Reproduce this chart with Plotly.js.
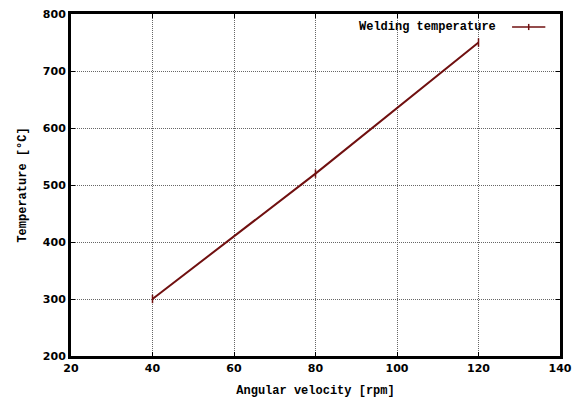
<!DOCTYPE html>
<html>
<head>
<meta charset="utf-8">
<script src="https://cdn.plot.ly/plotly-3.0.1.min.js"></script>
<style>html,body{margin:0;padding:0;background:#fff;}#chart{width:580px;height:400px;}</style>
</head>
<body>
<div id="chart"></div>
<script>
const seriesName = "Welding temperature";
const velocity = [40, 80, 120];
const temperature = [300, 520, 750];
const xTicks = [20, 40, 60, 80, 100, 120, 140];
const yTicks = [200, 300, 400, 500, 600, 700, 800];

const mono = "Liberation Mono, Courier New, monospace";
const sans = "DejaVu Sans, sans-serif";
const lineColor = "#701010";

const trace = {
  x: velocity, y: temperature, name: seriesName, showlegend: false,
  type: "scatter", mode: "lines+markers",
  line: {color: lineColor, width: 2},
  marker: {symbol: "line-ns-open", size: 6, color: lineColor, line: {width: 1.5, color: lineColor}}
};

// key drawn like the reference: text on the left, line sample on the right
const keyY = 0.962;
const layout = {
  width: 580, height: 400,
  margin: {l: 71, r: 20, t: 14, b: 44},
  paper_bgcolor: "#fff", plot_bgcolor: "#fff",
  showlegend: false,
  annotations: [{
    xref: "paper", yref: "paper", x: 0.874, y: keyY, xanchor: "right", yanchor: "middle",
    text: seriesName, showarrow: false,
    font: {family: mono, size: 12, color: "#000", weight: "bold"}
  }],
  shapes: [
    {type: "line", xref: "paper", yref: "paper", x0: 0.902, x1: 0.970, y0: keyY, y1: keyY,
     line: {color: lineColor, width: 1.5}},
    {type: "line", xref: "paper", yref: "paper", x0: 0.936, x1: 0.936, y0: keyY - 0.009, y1: keyY + 0.009,
     line: {color: lineColor, width: 1.5}}
  ],
  xaxis: {
    range: [20, 140], tickvals: xTicks, ticktext: xTicks.map(String),
    showgrid: true, gridcolor: "#666", griddash: "1px,1px", gridwidth: 1,
    showline: true, linecolor: "#000", linewidth: 3, mirror: "ticks",
    ticks: "inside", ticklen: 4, tickcolor: "#000", tickwidth: 1, zeroline: false,
    tickfont: {family: sans, size: 11, color: "#000", weight: "bold"},
    title: {text: "Angular velocity [rpm]", font: {family: mono, size: 12, color: "#000", weight: "bold"}, standoff: 12}
  },
  yaxis: {
    range: [200, 800], tickvals: yTicks, ticktext: yTicks.map(String),
    showgrid: true, gridcolor: "#666", griddash: "1px,1px", gridwidth: 1,
    showline: true, linecolor: "#000", linewidth: 3, mirror: "ticks",
    ticks: "inside", ticklen: 4, tickcolor: "#000", tickwidth: 1, zeroline: false,
    tickfont: {family: sans, size: 11, color: "#000", weight: "bold"},
    title: {text: "Temperature [°C]", font: {family: mono, size: 12, color: "#000", weight: "bold"}, standoff: 14}
  }
};

Plotly.newPlot("chart", [trace], layout, {displayModeBar: false, staticPlot: true});
</script>
</body>
</html>
